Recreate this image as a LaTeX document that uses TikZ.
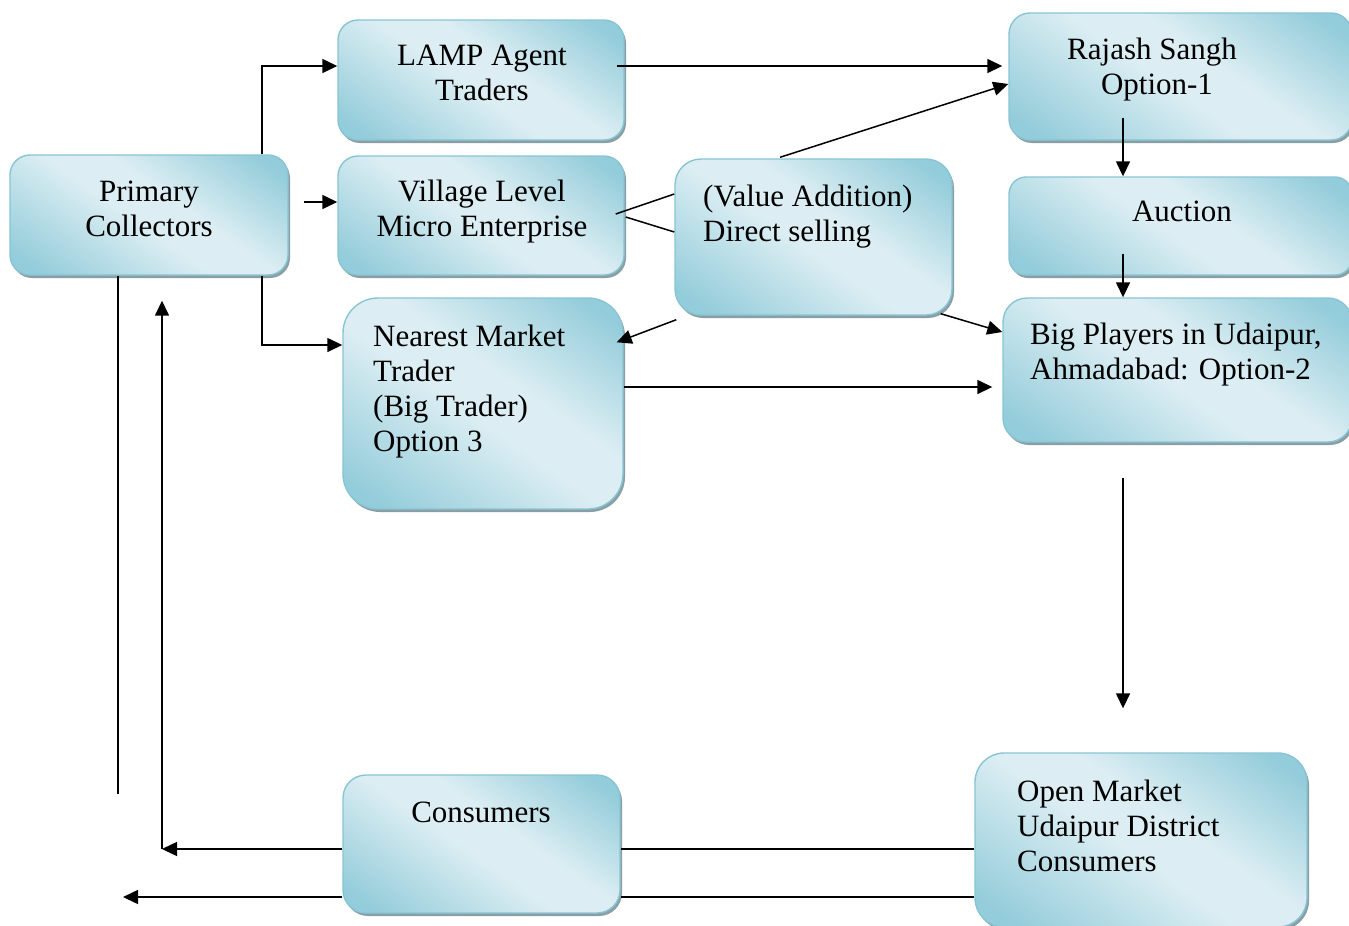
\documentclass[tikz,border=0pt]{standalone}
\usepackage{fontspec}
\setmainfont{Liberation Serif}
\usetikzlibrary{arrows.meta,shadows}

\definecolor{aquadark}{HTML}{93CCDA}
\definecolor{aqualight}{HTML}{DCEEF3}
\definecolor{aquaedge}{HTML}{88C5D4}
\definecolor{boxshadow}{HTML}{8A9FA5}

% diagonal light band between two darker corners
\pgfdeclareverticalshading{aquaband}{100bp}{%
  color(0bp)=(aquadark); color(20bp)=(aquadark);
  color(47bp)=(aqualight); color(57bp)=(aqualight);
  color(80bp)=(aquadark); color(100bp)=(aquadark)}

\newcommand{\firstline}{\rule{0pt}{25pt}}

\begin{document}
\begin{tikzpicture}[x=1pt,y=-1pt,
  box/.style={rectangle, inner sep=0pt, draw=aquaedge, line width=1.4pt,
    shading=aquaband, shading angle=-35,
    drop shadow={shadow xshift=2pt, shadow yshift=-3pt, fill=boxshadow, opacity=1}},
  txt/.style={inner sep=0pt, font=\fontsize{31}{35}\selectfont},
  arr/.style={line width=1.5pt, -{Triangle[length=15pt,width=14pt]}},
  ln/.style={line width=1.5pt}]

\useasboundingbox (0,0) rectangle (1349,926);

% boxes
\node[box, minimum width=278pt, minimum height=120pt, rounded corners=20pt] (prim) at (149,215) {};
\node[box, minimum width=286pt, minimum height=120pt, rounded corners=20pt] (lamp) at (481,80) {};
\node[box, minimum width=286pt, minimum height=119pt, rounded corners=20pt] (vill) at (481,215.5) {};
\node[box, minimum width=280pt, minimum height=211pt, rounded corners=35pt] (near) at (483,403.5) {};
\node[box, minimum width=277pt, minimum height=156pt, rounded corners=26pt] (valu) at (813.5,237) {};
\node[box, minimum width=343pt, minimum height=127pt, rounded corners=21pt] (raja) at (1180.5,76.5) {};
\node[box, minimum width=343pt, minimum height=98pt, rounded corners=17pt] (auct) at (1180.5,226) {};
\node[box, minimum width=349pt, minimum height=144pt, rounded corners=24pt] (bigp) at (1177.5,370) {};
\node[box, minimum width=277pt, minimum height=138pt, rounded corners=23pt] (cons) at (481.5,844) {};
\node[box, minimum width=332pt, minimum height=174pt, rounded corners=29pt] (open) at (1141,840) {};

% labels
\node[txt, anchor=north, align=center] (primT) at (149,176) {\firstline Primary\\Collectors};
\node[txt, anchor=north, align=center] (lampT) at (482,40) {\firstline LAMP Agent\\Traders};
\node[txt, anchor=north, align=center] (villT) at (482,176) {\firstline Village Level\\Micro Enterprise};
\node[txt, anchor=north west, align=left] (nearT) at (373,321) {\firstline Nearest Market\\Trader\\(Big Trader)\\Option 3};
\node[txt, anchor=north west, align=left] (valuT) at (703,181) {\firstline (Value Addition)\\Direct selling};
\node[txt, anchor=north, align=center] (rajaT) at (1152,34) {\firstline Rajash Sangh\\\hspace*{10pt}Option-1};
\node[txt, anchor=north, align=center] (auctT) at (1182,196) {\firstline Auction};
\node[txt, anchor=north west, align=left] (bigpT) at (1030,319) {\firstline Big Players in Udaipur,\\Ahmadabad: Option-2};
\node[txt, anchor=north, align=center] (consT) at (481,797) {\firstline Consumers};
\node[txt, anchor=north west, align=left] (openT) at (1017,776) {\firstline Open Market\\Udaipur District\\Consumers};

% free ends of the return lines
\coordinate (retA) at (162,849);
\coordinate (retB) at (123,897);
\coordinate (retC) at (118,794);

% connectors
\draw[arr] ([xshift=113pt]prim.north) |- ([yshift=14pt]lamp.west);
\draw[arr] ([xshift=15pt,yshift=13pt]prim.east) -- ([yshift=13.5pt]vill.west);
\draw[arr] ([xshift=113pt]prim.south) |- ([yshift=58.5pt]near.west);
\draw[arr] ([xshift=-8pt,yshift=14pt]lamp.east) -- ([xshift=-6pt,yshift=10.5pt]raja.west);
\draw[ln] ([xshift=-9pt,yshift=1.5pt]vill.east) -- ([yshift=43pt]valu.west);
\draw[ln] ([xshift=1pt,yshift=-1.5pt]vill.east) -- ([yshift=5pt]valu.west);
\draw[arr] ([xshift=-33.5pt,yshift=1pt]valu.north) -- ([yshift=-7.5pt]raja.west);
\draw[arr] ([xshift=2pt,yshift=-4pt]valu.south west) -- ([xshift=-7pt,yshift=-45pt]near.north east);
\draw[arr] ([xshift=-12pt,yshift=2pt]valu.south east) -- ([yshift=38pt]bigp.west);
\draw[arr] ([yshift=16.5pt]near.east) -- ([xshift=-10pt,yshift=-17pt]bigp.west);
\draw[arr] ([xshift=-57.5pt,yshift=23pt]raja.south) -- ([xshift=-57.5pt]auct.north);
\draw[arr] ([xshift=-57.5pt,yshift=22pt]auct.south) -- ([xshift=-54.5pt]bigp.north);
\draw[arr] ([xshift=-54.5pt,yshift=-35pt]bigp.south) -- ([xshift=-18pt,yshift=44pt]open.north);
\draw[ln] ([yshift=-9pt]open.west) -- ([yshift=-5pt]cons.east);
\draw[arr] ([yshift=-5pt]cons.west) -- (retA);
\draw[arr] (retA) -- ([xshift=13pt,yshift=-25pt]prim.south);
\draw[ln] ([yshift=-57pt]open.west) -- ([yshift=-53pt]cons.east);
\draw[arr] ([yshift=-53pt]cons.west) -- (retB);
\draw[ln] ([xshift=-31pt]prim.south) -- (retC);
\end{tikzpicture}
\end{document}
